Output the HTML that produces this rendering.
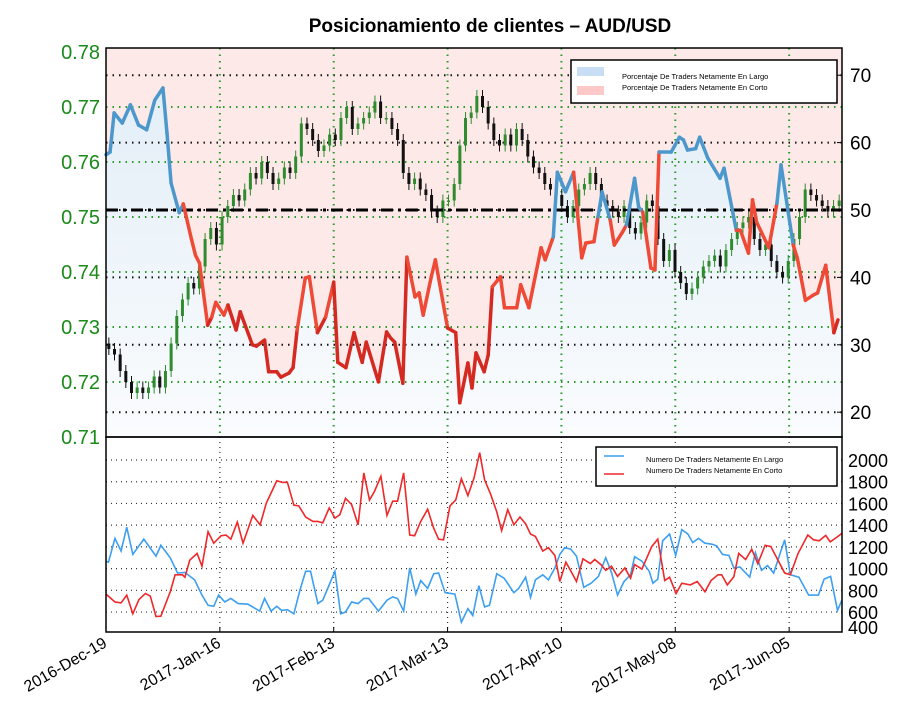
<!DOCTYPE html>
<html><head><meta charset="utf-8"><style>
body{margin:0;background:#fff;}
svg{display:block;font-family:"Liberation Sans",sans-serif;}
</style></head><body>
<svg id="c" width="916" height="712" viewBox="0 0 916 712">
<defs>
<linearGradient id="bl" x1="0" y1="0" x2="0" y2="1"><stop offset="0" stop-color="#e3eef7"/><stop offset="1" stop-color="#fafcfe"/></linearGradient>
</defs>
<text x="490" y="32" text-anchor="middle" font-size="19" font-weight="bold">Posicionamiento de clientes – AUD/USD</text>
<g id="gtop"></g><g id="gbot"></g><g id="gaxes"></g>
</svg>
<script>
const NS="http://www.w3.org/2000/svg";
// ---- data ----
const dateTicks=["2016-Dec-19","2017-Jan-16","2017-Feb-13","2017-Mar-13","2017-Apr-10","2017-May-08","2017-Jun-05"];
const dateTickDays=[0,28,56,84,112,140,168];
const priceTicks=[0.71,0.72,0.73,0.74,0.75,0.76,0.77,0.78];
const pctTicks=[20,30,40,50,60,70];
const countTicks=[400,600,800,1000,1200,1400,1600,1800,2000];
const pctDays=[0,1,2,4,6,8,10,12,14,15,16,18,19,21,22,23,25,26,27,29,30,32,33,36,37,39,40,42,43,45,46,47,49,50,52,54,56,57,59,61,63,64,67,69,70,71,73,74,76,77,78,80,81,84,86,87,89,90,91,93,94,95,97,98,101,102,104,107,108,110,111,113,115,117,118,120,121,122,124,125,127,128,130,131,132,134,135,136,139,141,142,143,145,146,148,151,152,155,156,158,159,160,163,165,166,169,170,172,174,175,177,179,180];
const pctLong=[58.2,58.6,64.4,62.9,65.6,62.6,61.9,66.3,68.1,61.4,54.0,49.6,50.9,45.7,43.3,42.1,32.9,34.1,36.3,34.4,35.9,32.2,34.9,30.0,29.8,30.7,26.0,26.0,25.2,25.8,26.6,32.2,39.9,40.1,31.8,34.1,39.3,27.4,26.6,31.8,27.4,30.4,24.5,31.9,31.0,30.4,24.3,43.0,37.1,37.7,34.4,40.1,42.6,32.5,31.8,21.4,27.3,23.6,28.8,26.0,28.5,38.6,40.1,35.5,35.5,38.9,35.5,44.4,42.6,46.0,55.6,52.7,55.6,42.9,45.1,45.3,49.0,52.7,48.5,44.8,46.7,47.8,54.7,50.4,49.7,41.4,41.1,58.6,58.6,60.8,60.4,58.9,59.1,60.8,57.7,54.7,56.2,47.0,47.0,43.6,51.5,48.2,44.4,51.0,56.7,44.8,42.9,36.6,37.4,37.7,41.8,31.8,33.7];
const closes=[0.726,0.725,0.722,0.720,0.718, 0.719,0.718,0.719,0.721,0.719, 0.722,0.727,0.732,0.735,0.738, 0.737,0.741,0.746,0.748,0.745, 0.750,0.752,0.754,0.753,0.755, 0.758,0.757,0.760,0.758,0.756, 0.757,0.759,0.758,0.761,0.767, 0.766,0.764,0.762,0.763,0.765, 0.764,0.768,0.770,0.766,0.767, 0.768,0.769,0.771,0.768,0.768, 0.766,0.764,0.758,0.756,0.757, 0.755,0.754,0.751,0.750,0.753, 0.753,0.756,0.763,0.768,0.769, 0.772,0.770,0.767,0.764,0.763, 0.765,0.763,0.766,0.764,0.761, 0.759,0.758,0.756,0.755,0.754, 0.752,0.750,0.752,0.755,0.756, 0.758,0.756,0.753,0.752,0.751, 0.750,0.752,0.748,0.747,0.749, 0.753,0.752,0.746,0.742,0.744, 0.740,0.738,0.736,0.737,0.739, 0.741,0.742,0.743,0.741,0.744, 0.746,0.748,0.749,0.750,0.746, 0.744,0.745,0.742,0.740,0.739, 0.742,0.746,0.750,0.755,0.754, 0.753,0.752,0.751,0.752,0.753];
const longDays=[0,0.6,2.2,3.7,5.1,6.6,9.3,12.3,13.5,15.8,17.6,19.4,21.8,23.6,25.1,26.5,27.7,29.2,30.7,32.5,34.9,37.8,39.0,40.6,42.0,43.2,44.6,46.2,47.7,49.1,50.3,52.1,53.3,56.3,57.7,58.9,60.4,62.0,63.4,64.6,67.0,69.1,70.5,71.7,73.2,74.7,76.2,77.4,79.1,80.6,81.8,83.4,85.8,87.4,89.0,90.2,91.7,93.1,94.3,96.1,97.9,100.3,101.5,103.2,104.4,105.6,107.4,108.8,110.4,111.6,112.8,114.3,115.7,117.5,119.3,121.1,122.9,124.3,125.8,127.4,129.0,130.0,131.8,133.6,134.5,135.7,136.9,138.6,140.1,141.6,143.1,144.3,145.7,147.3,149.0,150.2,151.6,153.2,154.4,155.9,158.3,159.7,161.2,162.7,164.2,165.7,166.9,168.3,170.4,172.8,175.2,176.6,178.2,179.9,181];
const longCount=[1068,1059,1278,1162,1381,1131,1271,1115,1215,1100,959,965,896,756,662,653,756,693,725,678,672,609,725,609,653,615,622,584,803,975,975,678,709,975,584,600,693,678,725,725,609,709,740,725,609,1006,765,890,818,953,959,778,765,506,631,568,843,647,662,953,912,778,818,921,734,896,943,896,1006,1131,1193,1178,1115,828,865,928,1100,965,756,881,943,1109,1068,975,865,903,1256,1318,1121,1359,1318,1240,1278,1234,1225,1209,1131,1121,1006,1015,921,1147,984,1028,959,1131,1265,943,921,756,756,903,928,615,712];
const shortDays=[0,2.2,3.7,5.1,6.6,8.1,9.7,10.9,12.3,13.5,15.8,17.0,18.8,19.4,20.6,22.4,23.6,25.1,26.5,28.3,29.5,30.7,32.3,33.7,36.1,37.9,39.4,42.0,43.4,44.6,46.2,47.4,49.1,50.9,52.1,53.3,54.9,56.3,57.5,58.9,60.4,62.0,63.4,64.8,66.0,67.6,69.1,70.5,71.7,73.2,74.7,75.9,77.4,79.1,80.6,81.8,83.0,84.6,86.0,87.4,89.0,90.5,91.9,93.1,94.6,96.1,97.3,98.8,100.3,101.8,103.2,104.4,105.6,107.4,108.8,110.4,111.6,113.1,114.5,115.7,117.3,119.1,120.2,121.7,122.9,124.3,125.8,127.6,129.0,130.0,131.8,134.2,135.7,137.4,138.6,140.2,141.6,143.7,145.4,147.3,148.8,150.5,151.4,152.8,154.4,155.6,157.3,158.8,160.3,162.1,163.5,166.9,168.3,170.2,172.6,174.0,175.4,177.0,178.1,179.9,181];
const shortCount=[765,693,684,756,584,715,771,746,559,562,787,943,943,921,1078,1140,1022,1340,1234,1303,1309,1271,1428,1234,1490,1403,1600,1809,1793,1796,1584,1578,1475,1434,1434,1421,1559,1465,1496,1647,1590,1403,1881,1631,1709,1850,1490,1621,1621,1881,1309,1303,1434,1547,1371,1271,1265,1578,1631,1828,1672,1834,2068,1818,1684,1522,1350,1543,1403,1475,1412,1318,1297,1162,1193,1121,881,1059,965,881,1090,1046,1084,1037,984,1022,928,1006,912,1037,996,1203,1271,890,921,771,865,850,881,787,890,943,943,850,925,1140,1084,1178,1046,1215,1203,959,943,1140,1309,1265,1256,1306,1246,1293,1325];

// ---- scales ----
const X0=106,X1=842,TOP=48,MID=437,BOT=632,DAYS=181;
const xs=d=>X0+d*(X1-X0)/DAYS;
const yPrice=v=>437-(v-0.71)*5500;
const yPct=p=>210-(p-50)*6.74;
const yCnt=v=>460+(2000-v)*0.1086;

function el(tag,attrs,parent,text){const e=document.createElementNS(NS,tag);for(const k in attrs)e.setAttribute(k,attrs[k]);if(text!==undefined)e.textContent=text;parent.appendChild(e);return e;}
const gTop=document.getElementById('gtop'),gBot=document.getElementById('gbot'),gAxes=document.getElementById('gaxes');

// backgrounds
let bg=el('rect',{x:X0,y:TOP,width:X1-X0,height:MID-TOP,fill:'#fde9e8'},gTop);


let pts=pctDays.map((d,i)=>xs(d)+','+yPct(pctLong[i]));
let area=el('polygon',{points:xs(pctDays[0])+','+MID+' '+pts.join(' ')+' '+X1+','+yPct(pctLong[pctLong.length-1])+' '+X1+','+MID,fill:'url(#bl)'},gTop);



// grids top
priceTicks.forEach(v=>{if(v>0.71&&v<0.78){let g=el('line',{x1:X0,x2:X1,y1:yPrice(v),y2:yPrice(v),stroke:'#2a9a2a','stroke-width':2,'stroke-dasharray':'1.5 5'},gTop);

}});
pctTicks.forEach(v=>{let g=el('line',{x1:X0,x2:X1,y1:yPct(v),y2:yPct(v),stroke:'#111','stroke-width':2,'stroke-dasharray':'1.5 5'},gTop);

});
dateTickDays.forEach(d=>{if(d>0){let g=el('line',{x1:xs(d),x2:xs(d),y1:TOP,y2:MID,stroke:'#2a9a2a','stroke-width':2,'stroke-dasharray':'1.5 5'},gTop);

}});

// candles
const nC=closes.length;
for(let i=0;i<nC;i++){
  const d=i*DAYS/nC+0.7;
  const o=i?closes[i-1]:closes[0]+0.001,c=closes[i];
  const col=c>=o?'#2e8b2e':'#111';
  const yo=yPrice(o),yc=yPrice(c);
  const w=el('line',{x1:xs(d),x2:xs(d),y1:Math.min(yo,yc)-6,y2:Math.max(yo,yc)+6,stroke:col,'stroke-width':1},gTop);
  
  
  const b=el('rect',{x:xs(d)-1.5,y:Math.min(yo,yc),width:3,height:Math.max(1.5,Math.abs(yo-yc)),fill:col},gTop);
  
  
}
// 50 line
let fl=el('line',{x1:X0,x2:X1,y1:yPct(50),y2:yPct(50),stroke:'#000','stroke-width':3,'stroke-dasharray':'12 5 3 5'},gTop);


// sentiment line
for(let i=1;i<pctDays.length;i++){
  const m=(pctLong[i]+pctLong[i-1])/2;
  const s=el('line',{x1:xs(pctDays[i-1]),y1:yPct(pctLong[i-1]),x2:xs(pctDays[i]),y2:yPct(pctLong[i]),stroke:m>=50?'#4c98cc':(m<35?'#d42a22':'#ee4a36'),'stroke-width':3.5,'stroke-linecap':'round'},gTop);
  
  
}
// bottom grid
countTicks.forEach(v=>{if(v>400){let g=el('line',{x1:X0,x2:X1,y1:yCnt(v),y2:yCnt(v),stroke:'#333','stroke-width':1.2,'stroke-dasharray':'1 4'},gBot);

}});
dateTickDays.forEach(d=>{if(d>0){let g=el('line',{x1:xs(d),x2:xs(d),y1:MID,y2:BOT,stroke:'#333','stroke-width':1.2,'stroke-dasharray':'1 4'},gBot);

}});
let lp=el('polyline',{points:longDays.map((d,i)=>xs(d)+','+yCnt(longCount[i])).join(' '),fill:'none',stroke:'#3d9ff0','stroke-width':1.6},gBot);


let sp=el('polyline',{points:shortDays.map((d,i)=>xs(d)+','+yCnt(shortCount[i])).join(' '),fill:'none',stroke:'#f0282a','stroke-width':1.6},gBot);



// frames
let f1=el('rect',{x:X0,y:TOP,width:X1-X0,height:MID-TOP,fill:'none',stroke:'#000','stroke-width':1.5},gAxes);


let f2=el('rect',{x:X0,y:MID,width:X1-X0,height:BOT-MID,fill:'none',stroke:'#000','stroke-width':1.5},gAxes);



// tick labels
priceTicks.forEach(v=>{let t=el('text',{x:100,y:yPrice(v)+7,'text-anchor':'end','font-size':20,fill:'#1a8a1a'},gAxes,v.toFixed(2));

});
pctTicks.forEach(v=>{let t=el('text',{x:850,y:yPct(v)+7,'font-size':19,fill:'#000'},gAxes,String(v));


let k=el('line',{x1:X1-5,x2:X1,y1:yPct(v),y2:yPct(v),stroke:'#000'},gAxes);

});
countTicks.forEach(v=>{let y=Math.min(yCnt(v),627);let t=el('text',{x:848,y:y+7,'font-size':18,fill:'#000'},gAxes,String(v));

});
dateTickDays.forEach((d,i)=>{let t=el('text',{x:xs(d)+2,y:646,'text-anchor':'end','font-size':16,transform:'rotate(-30 '+(xs(d)+2)+' 646)'},gAxes,dateTicks[i]);


let k=el('line',{x1:xs(d),x2:xs(d),y1:BOT-5,y2:BOT,stroke:'#000'},gAxes);

});
</script>
<svg style="position:absolute;left:0;top:0" width="916" height="712">
<g font-family="Liberation Sans, sans-serif" font-size="7.5">
<rect x="571" y="60" width="266" height="43" fill="#fff" stroke="#000" stroke-width="1.5"/>
<rect x="577" y="67" width="27" height="9" fill="#c8def5"/>
<rect x="577" y="86" width="27" height="9" fill="#fcc8c8"/>
<text x="622" y="79">Porcentaje De Traders Netamente En Largo</text>
<text x="622" y="90">Porcentaje De Traders Netamente En Corto</text>
</g>
<g font-family="Liberation Sans, sans-serif" font-size="7.5">
<rect x="596" y="447" width="241" height="39" fill="#fff" stroke="#000" stroke-width="1.5"/>
<line x1="604" x2="624" y1="456" y2="456" stroke="#3d9ff0" stroke-width="1.6"/>
<line x1="604" x2="624" y1="474" y2="474" stroke="#f0282a" stroke-width="1.6"/>
<text x="646" y="462">Numero De Traders Netamente En Largo</text>
<text x="646" y="473">Numero De Traders Netamente En Corto</text>
</g>
</svg>
</body></html>
